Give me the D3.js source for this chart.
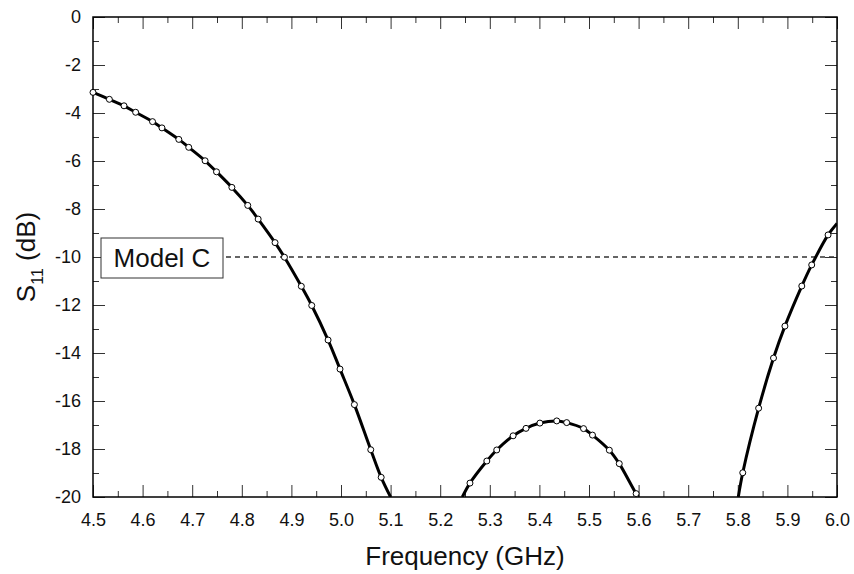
<!DOCTYPE html>
<html>
<head>
<meta charset="utf-8">
<title>S11 - Model C</title>
<style>
    body { margin: 0; background: #fff; }
    text { font-family: Arial, "Liberation Sans", sans-serif; fill: #111; }
</style>
<script src="https://cdn.jsdelivr.net/npm/d3@7/dist/d3.min.js"></script>
</head>
<body>
<div id="chart"></div>
<script>
// measured points (circles)
var markerFreq = [4.500, 4.533, 4.5625, 4.586, 4.620, 4.639, 4.673, 4.693, 4.726, 4.749, 4.780,
                  4.812, 4.833, 4.867, 4.886, 4.920, 4.941, 4.974, 4.998, 5.027, 5.060, 5.081,
                  5.260, 5.294, 5.314, 5.347, 5.373, 5.401, 5.435, 5.455, 5.489, 5.507, 5.541, 5.561, 5.595,
                  5.810, 5.842, 5.872, 5.895, 5.929, 5.949, 5.982];
var markerS11 = [-3.14, -3.43, -3.70, -3.97, -4.36, -4.62, -5.10, -5.43, -5.99, -6.45, -7.10,
                 -7.85, -8.42, -9.40, -10.01, -11.22, -12.02, -13.46, -14.67, -16.15, -18.03, -19.18,
                 -19.42, -18.50, -18.04, -17.45, -17.14, -16.92, -16.83, -16.90, -17.15, -17.42, -18.05, -18.61, -19.86,
                 -18.99, -16.30, -14.21, -12.88, -11.21, -10.33, -9.08];

// solid curve (null = curve leaves the plot below -20 dB)
var curveFreq = [4.500, 4.533, 4.5625, 4.586, 4.620, 4.639, 4.673, 4.693, 4.726, 4.749, 4.780,
                 4.812, 4.833, 4.867, 4.886, 4.920, 4.941, 4.974, 4.998, 5.027, 5.060, 5.081, 5.100,
                 null,
                 5.2446, 5.260, 5.294, 5.314, 5.347, 5.373, 5.401, 5.435, 5.455, 5.489, 5.507, 5.541, 5.561, 5.595, 5.600,
                 null,
                 5.801, 5.810, 5.842, 5.872, 5.895, 5.929, 5.949, 5.982, 6.000];
var curveS11 = [-3.14, -3.43, -3.70, -3.97, -4.36, -4.62, -5.10, -5.43, -5.99, -6.45, -7.10,
                -7.85, -8.42, -9.40, -10.01, -11.22, -12.02, -13.46, -14.67, -16.15, -18.03, -19.18, -20,
                null,
                -20, -19.42, -18.50, -18.04, -17.45, -17.14, -16.92, -16.83, -16.90, -17.15, -17.42, -18.05, -18.61, -19.86, -20,
                null,
                -20, -18.99, -16.30, -14.21, -12.88, -11.21, -10.33, -9.08, -8.60];

var xTickLabels = ['4.5', '4.6', '4.7', '4.8', '4.9', '5.0', '5.1', '5.2', '5.3', '5.4', '5.5', '5.6', '5.7', '5.8', '5.9', '6.0'];
var yTickLabels = ['0', '-2', '-4', '-6', '-8', '-10', '-12', '-14', '-16', '-18', '-20'];
var refLevel = -10;
var legendLabel = 'Model C';

var width = 854,
    height = 574,
    margin = {top: 17, right: 17, bottom: 77, left: 93};
var w = width - margin.left - margin.right,
    h = height - margin.top - margin.bottom;

var svg = d3.select('#chart').append('svg')
    .attr('width', width)
    .attr('height', height);

var g = svg.append('g')
    .attr('transform', 'translate(' + margin.left + ',' + margin.top + ')');

var x = d3.scaleLinear().domain([4.5, 6.0]).range([0, w]);
var y = d3.scaleLinear().domain([-20, 0]).range([h, 0]);

var xMajor = xTickLabels.map(Number),
    yMajor = yTickLabels.map(Number);
var xMinor = d3.range(4.55, 6.0, 0.1),
    yMinor = d3.range(-19, 0, 2);

svg.append('clipPath').attr('id', 'plot')
    .append('rect').attr('width', w).attr('height', h);

// ticks on all four sides, pointing inwards
function ticks(axis, scale, vals, len, labels, pad) {
    return axis(scale)
        .tickValues(vals)
        .tickSizeInner(-len)
        .tickSizeOuter(0)
        .tickPadding(pad || 0)
        .tickFormat(labels ? (d, i) => labels[i] : '');
}

var gx = g.append('g').attr('transform', 'translate(0,' + h + ')');
gx.call(ticks(d3.axisBottom, x, xMajor, 12, xTickLabels, 16));
gx.append('g').call(ticks(d3.axisBottom, x, xMinor, 6));
g.append('g').call(ticks(d3.axisTop, x, xMajor, 12));
g.append('g').call(ticks(d3.axisTop, x, xMinor, 6));

var gy = g.append('g');
gy.call(ticks(d3.axisLeft, y, yMajor, 12, yTickLabels, 12));
gy.append('g').call(ticks(d3.axisLeft, y, yMinor, 6));
g.append('g').attr('transform', 'translate(' + w + ',0)').call(ticks(d3.axisRight, y, yMajor, 12));
g.append('g').attr('transform', 'translate(' + w + ',0)').call(ticks(d3.axisRight, y, yMinor, 6));

g.selectAll('.domain').remove();
g.selectAll('.tick line').attr('stroke', '#333').attr('stroke-width', 1);
g.selectAll('.tick text').style('font-size', '18px').attr('fill', '#111');

// frame
g.append('rect')
    .attr('width', w).attr('height', h)
    .attr('fill', 'none')
    .attr('stroke', '#000')
    .attr('stroke-width', 1.5);

// legend box and -10 dB reference line
var boxX = 8, boxY = y(refLevel) - 19, boxW = 122, boxH = 40;
g.append('line')
    .attr('x1', boxX + boxW + 3).attr('x2', w)
    .attr('y1', y(refLevel)).attr('y2', y(refLevel))
    .attr('stroke', '#333')
    .attr('stroke-width', 1.5)
    .attr('stroke-dasharray', '5,4');

g.append('rect')
    .attr('x', boxX).attr('y', boxY)
    .attr('width', boxW).attr('height', boxH)
    .attr('fill', '#fff')
    .attr('stroke', '#333')
    .attr('stroke-width', 1);
g.append('text')
    .attr('x', boxX + boxW / 2).attr('y', boxY + boxH / 2 + 9)
    .attr('text-anchor', 'middle')
    .style('font-size', '26px')
    .text(legendLabel);

// curve
var curvePts = curveFreq.map((f, i) => ({f: f, s: curveS11[i]}));
var line = d3.line()
    .defined(d => d.f != null)
    .x(d => x(d.f))
    .y(d => y(d.s))
    .curve(d3.curveCatmullRom);

g.append('path')
    .datum(curvePts)
    .attr('clip-path', 'url(#plot)')
    .attr('d', line)
    .attr('fill', 'none')
    .attr('stroke', '#000')
    .attr('stroke-width', 3);

var markerPts = markerFreq.map((f, i) => ({f: f, s: markerS11[i]}));
g.selectAll('.pt')
    .data(markerPts)
    .enter().append('circle')
    .attr('class', 'pt')
    .attr('cx', d => x(d.f))
    .attr('cy', d => y(d.s))
    .attr('r', 3)
    .attr('fill', '#fff')
    .attr('stroke', '#000')
    .attr('stroke-width', 1);

// axis titles
svg.append('text')
    .attr('x', margin.left + w / 2)
    .attr('y', 565)
    .attr('text-anchor', 'middle')
    .style('font-size', '26px')
    .text('Frequency (GHz)');

var yt = svg.append('text')
    .attr('transform', 'translate(35,' + (margin.top + h / 2) + ') rotate(-90)')
    .attr('text-anchor', 'middle')
    .style('font-size', '26px');
yt.append('tspan').text('S');
yt.append('tspan').attr('dy', 8).style('font-size', '16px').text('11');
yt.append('tspan').attr('dy', -8).text(' (dB)');
</script>
</body>
</html>
